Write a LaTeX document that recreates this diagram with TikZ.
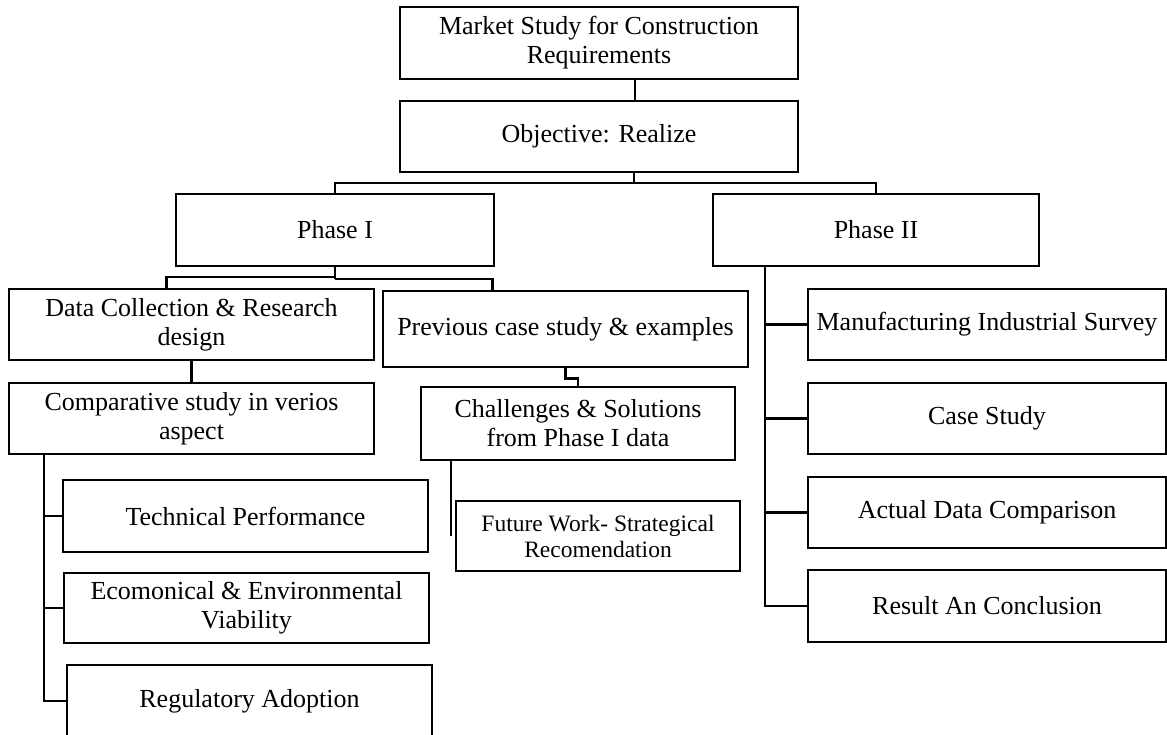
\documentclass[tikz,border=0pt]{standalone}
\usepackage{fontspec}
\setmainfont{Liberation Serif}
\begin{document}
\begin{tikzpicture}[x=1pt,y=-1pt,
  bx/.style={draw=black, line width=2.5pt, inner sep=0pt, align=center,
    font=\fontsize{26}{29}\selectfont},
  ln/.style={draw=black, line width=2.5pt}]
\useasboundingbox (0,0) rectangle (1167,734);
\clip (0,0) rectangle (1167,734);
% nodes
\node[bx, minimum width=398, minimum height=72] (market) at (599,43) {Market Study for Construction\\Requirements};
\node[bx, minimum width=398, minimum height=71] (obj) at (599,136.5) {Objective: Realize};
\node[bx, minimum width=318, minimum height=72] (p1) at (335,230) {Phase I};
\node[bx, minimum width=326, minimum height=72] (p2) at (876,230) {Phase II};
\node[bx, minimum width=365, minimum height=71] (data) at (191.5,324.5) {Data Collection \& Research\\design};
\node[bx, minimum width=365, minimum height=71] (comp) at (191.5,418.5) {Comparative study in verios\\aspect};
\node[bx, minimum width=365, minimum height=72] (tech) at (245.5,516) {Technical Performance};
\node[bx, minimum width=365, minimum height=70] (eco) at (246.5,608) {Ecomonical \& Environmental\\Viability};
\node[bx, minimum width=365, minimum height=72] (reg) at (249.5,701) {Regulatory Adoption};
\node[bx, minimum width=365, minimum height=76] (prev) at (565.5,329) {Previous case study \& examples};
\node[bx, minimum width=314, minimum height=73] (chal) at (578,423.5) {Challenges \& Solutions\\from Phase I data};
\node[bx, minimum width=284, minimum height=70, font=\fontsize{23.5}{26}\selectfont] (fut) at (598,536) {Future Work- Strategical\\Recomendation};
\node[bx, minimum width=358, minimum height=71] (manu) at (987,324.5) {Manufacturing Industrial Survey};
\node[bx, minimum width=358, minimum height=71] (case) at (987,418.5) {Case Study};
\node[bx, minimum width=358, minimum height=71] (act) at (987,512.5) {Actual Data Comparison};
\node[bx, minimum width=358, minimum height=72] (res) at (987,606) {Result An Conclusion};
% connectors
\draw[ln] ([xshift=36]market.south) -- ([xshift=36]obj.north);
\coordinate (j1) at (634,183);
\draw[ln] (obj.south -| j1) -- (j1);
\draw[ln] (p1.north) |- (j1) -| (p2.north);
\coordinate (j2) at (335,277);
\coordinate (j3) at (335,279);
\draw[ln] (p1.south) -- (j3);
\draw[ln] (j2) -| ([xshift=-25]data.north);
\draw[ln] (j3) -| ([xshift=-73]prev.north);
\draw[ln] (data.south) -- (comp.north);
\coordinate (cv) at ([xshift=36]comp.south west);
\draw[ln] (cv) |- (reg.west);
\draw[ln] (cv |- tech.west) -- (tech.west);
\draw[ln] (cv |- eco.west) -- (eco.west);
\draw[ln] (prev.south) -- ++(0,10) -| (chal.north);
\coordinate (cf) at ([xshift=31]chal.south west);
\draw[ln] (cf) -- (cf |- fut.west);
\coordinate (pv) at ([xshift=53]p2.south west);
\draw[ln] (pv) |- (res.west);
\draw[ln] (pv |- manu.west) -- (manu.west);
\draw[ln] (pv |- case.west) -- (case.west);
\draw[ln] (pv |- act.west) -- (act.west);
\end{tikzpicture}
\end{document}
